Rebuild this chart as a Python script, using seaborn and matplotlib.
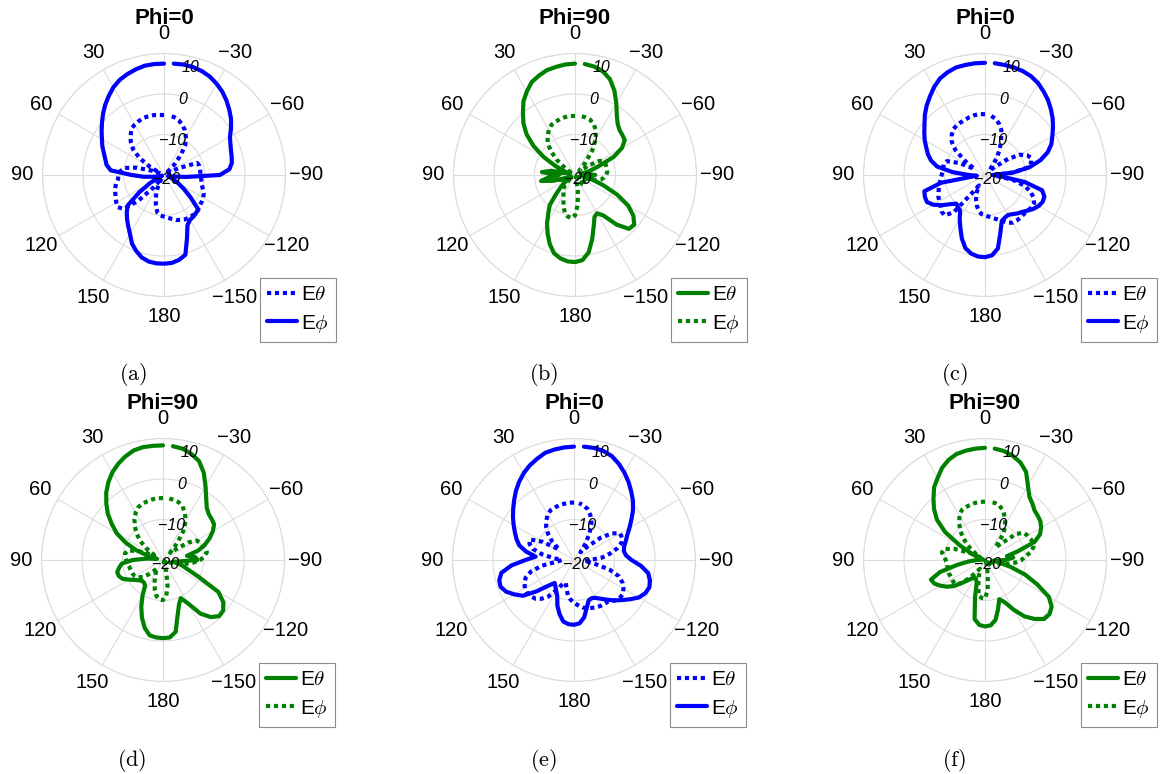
import numpy as np
import matplotlib
matplotlib.use("Agg")
import matplotlib.pyplot as plt
import seaborn as sns

# angle grid in degrees: 0..180 then -175..-5 (stored as 185..355)
theta_deg = np.arange(0, 360, 5)
tick_angles = np.arange(0, 360, 30)
tick_labels = ["0", "30", "60", "90", "120", "150", "180",
               "\u2212150", "\u2212120", "\u221290", "\u221260", "\u221230"]
r_ticks = [-20, -10, 0, 10]

# (a) Phi=0
a_etheta = [-5.2, -5.1, -5.0, -5.0, -5.0, -5.3, -5.6, -6.0, -7.2, -8.4,
            -10.0, -12.5, -16, -19, -17, -13, -10.0, -9.2, -8.8, -8.6,
            -8.0, -7.5, -7.2, -6.8, -6.4, -6.1, -7.0, -11, -16, -19,
            -17.5, -15.8, -14, -12.3, -10.6, -10.0, -9.7,
            -9.4, -9.0, -8.5, -8.2, -7.9, -7.8, -7.8, -7.6, -8.0, -8.4,
            -8.6, -8.8, -9.2, -9.8, -10.3, -10.6, -10.8, -11, -11, -11,
            -11.0, -11.3, -16, -19, -19.5, -19, -16.5, -13.5, -10.8, -9.2,
            -7.8, -6.8, -6.0, -5.5, -5.3]
a_ephi = [7.5, 7.5, 7.4, 7.0, 6.5, 5.9, 5.0, 3.8, 2.6, 1.3,
          0.0, -1.2, -2.3, -3.2, -4.2, -5.0, -5.6, -6.8, -12, -15,
          -17.5, -19, -19.5, -18.5, -16, -12.5, -8.3, -7.0, -5.8, -4.6,
          -3.2, -1.3, 0.0, 1.1, 1.7, 1.9, 1.9,
          1.8, 1.3, 0.4, -3.4, -6.3, -7.2, -7.4, -7.7, -8.1, -11.5,
          -14, -16, -17.5, -18.5, -19, -18, -14.5, -6.2, -3.8, -3.0,
          -2.7, -2.4, -1.9, -1.2, 0.2, 1.6, 2.8, 4.0, 5.1, 6.0,
          6.8, 7.3, 7.6, 7.7, 7.6]

# (b) Phi=90
b_etheta = [7.5, 7.4, 7.1, 6.8, 6.1, 5.3, 3.8, 2.2, 0.0, -2.0,
            -4.4, -7.5, -11, -14.5, -16.8, -18.5, -14, -11.8, -16, -13.5,
            -11.5, -14.5, -18.5, -19, -18.5, -17, -15.5, -13.5, -10.3, -8.5,
            -6.2, -4.0, -1.8, 0.0, 0.9, 1.4, 1.5,
            1.1, -0.6, -3.6, -6.5, -8.6, -9.1, -7.8, -4.0, -1.2, -0.9,
            -2.4, -4.8, -8.5, -12.5, -15.5, -18, -16, -15, -17, -18.5,
            -16.5, -14, -9.5, -6.6, -5.0, -4.7, -4.4, -3.6, -2.0, 0.4,
            3.0, 5.2, 6.5, 7.2, 7.5]
b_ephi = [-5.4, -5.4, -5.5, -5.7, -6.0, -6.3, -7.1, -8.2, -9.5, -11.5,
          -14, -17, -19, -19.5, -19, -18, -17, -16, -15.5, -15,
          -15, -15.5, -16.5, -17.5, -18.5, -19, -18, -16.5, -15.5, -15,
          -14.3, -13.2, -11.8, -10.3, -9.6, -9.3, -10,
          -12.5, -16, -18.5, -19.5, -19.5, -19, -18, -17, -16.5, -17,
          -18, -19, -19, -17.5, -15, -13.5, -12.8, -12.3, -12, -12,
          -12, -12, -12.2, -13, -16, -18.5, -18.5, -16, -12.5, -9.8,
          -7.8, -6.6, -5.8, -5.5, -5.4]

# (c) Phi=0
c_etheta = [-5.0, -4.9, -5.0, -5.2, -5.5, -5.7, -5.9, -6.3, -7.2, -8.4,
            -10.5, -14, -17, -13, -10, -9.5, -9.5, -9.5, -9.3, -9.0,
            -8.6, -8.2, -7.8, -7.3, -7.0, -6.6, -6.0, -5.9, -8.0, -15,
            -17, -15, -13.5, -12.2, -11, -10.3, -10,
            -9.7, -9.2, -8.7, -8.0, -7.0, -6.4, -6.3, -6.3, -6.4, -6.3,
            -6.0, -6.0, -6.8, -8.0, -10, -13, -17, -18, -13, -9.2,
            -8.2, -7.8, -8.5, -10, -13, -17, -18.5, -17.5, -15, -12.8,
            -10.6, -8.2, -6.8, -5.8, -5.2]
c_ephi = [7.7, 7.7, 7.6, 7.5, 7.0, 6.3, 5.1, 3.7, 2.4, 1.0,
          -0.5, -1.7, -2.8, -4.0, -5.0, -6.2, -8.0, -12, -16, -18,
          -9, -4.5, -4.2, -4.2, -5.3, -7.0, -8.8, -10, -9.6, -9.3,
          -7.5, -5.6, -3.3, -1.3, -0.3, 0.2, 0.3,
          -0.1, -1.6, -5.3, -7.9, -8.4, -8.6, -8.2, -7.6, -7.1, -6.3,
          -5.4, -4.7, -4.3, -4.4, -5.4, -10, -16, -18, -13, -8.8,
          -5.8, -3.5, -1.9, -0.8, 0.5, 1.8, 3.0, 4.2, 5.2, 6.2,
          6.9, 7.3, 7.5, 7.6, 7.7]

# (d) Phi=90
d_etheta = [8.3, 8.3, 8.3, 8.0, 7.2, 6.2, 5.0, 3.5, 1.8, -0.2,
            -2.2, -4.6, -6.8, -9.8, -13, -16.5, -18.5, -16, -12.5, -9.8,
            -9.0, -8.3, -8.4, -9.0, -10.3, -11.4, -12.2, -12.7, -12.7, -12.3,
            -9.9, -7.3, -4.8, -2.6, -1.1, -0.8, -0.7,
            -0.8, -2.0, -6.0, -8.4, -9.6, -7.6, -3.8, -1.6, -0.4, -0.6,
            -1.8, -4.2, -10.5, -13.8, -15.3, -17.5, -16, -11.5, -12, -14,
            -11, -9, -7.3, -5.8, -4.6, -4.3, -4.0, -3.2, -1.4, 1.0,
            3.8, 6.0, 7.1, 7.9, 8.2]
d_ephi = [-4.7, -4.7, -4.8, -5.0, -5.2, -5.6, -6.5, -7.7, -9.2, -10.8,
          -12.6, -15, -17.5, -17, -13.5, -11, -10.5, -10.6, -10.9, -11.2,
          -11.5, -11.6, -11.7, -11.8, -12, -12.5, -13.5, -15, -16.5, -17.5,
          -16.5, -15.3, -13.8, -12.3, -10.9, -10.2, -10.1,
          -11, -13.5, -17, -19, -19.5, -19.5, -19, -18.5, -18.5, -19,
          -19.5, -19.5, -19, -18, -16.5, -14.5, -12.5, -10.8, -9.8, -9.0,
          -9.1, -9.5, -9.9, -10.4, -12.5, -16, -17.5, -14.5, -11.2, -8.8,
          -7.2, -5.9, -5.2, -4.9, -4.7]

# (e) Phi=0
e_etheta = [-5.8, -5.8, -5.9, -6.0, -6.2, -6.4, -7.0, -8.1, -9.3, -11,
            -13, -15.5, -11, -8.0, -8.3, -9.5, -12, -15, -17, -16,
            -12, -9.0, -7.3, -6.5, -6.0, -5.9, -6.1, -6.5, -7.5, -9.0,
            -11.5, -13.5, -14, -12.8, -11.2, -10.2, -9.4,
            -8.8, -8.1, -7.7, -7.4, -7.1, -6.9, -6.8, -6.7, -5.8, -5.3,
            -5.3, -5.9, -6.8, -8.2, -11, -15, -17.5, -16, -13, -11,
            -9, -7.5, -6.9, -6.9, -8.5, -11.5, -15.5, -17.5, -15, -12.3,
            -9.8, -8.2, -7.0, -6.3, -5.9]
e_ephi = [8.0, 7.9, 7.7, 7.4, 6.6, 5.8, 4.8, 3.6, 2.3, 0.9,
          -0.4, -1.6, -2.8, -3.9, -4.9, -6.0, -8.0, -10.5, -8.0, -4.5,
          -1.8, -0.9, -0.7, -1.5, -3.0, -4.6, -8.0, -11, -12.6, -12,
          -11.2, -10.2, -8.0, -6.2, -4.6, -4.1, -4.0,
          -4.3, -5.6, -7.8, -9.4, -9.6, -9.2, -8.3, -7.2, -5.9, -4.6,
          -3.1, -1.5, -0.6, -0.2, -0.6, -1.4, -3.4, -5.8, -7.1, -7.5,
          -7.2, -6.4, -5.5, -4.2, -2.7, -1.0, 0.6, 2.0, 3.5, 4.9,
          6.2, 7.3, 7.9, 8.1, 8.1]

# (f) Phi=90
f_etheta = [7.7, 7.6, 7.4, 7.1, 6.3, 5.1, 3.4, 1.9, -0.2, -2.2,
            -4.5, -8, -13, -16.5, -18.5, -19.5, -19.5, -19, -18, -16,
            -13, -8.5, -5.8, -6.2, -7.3, -8.5, -10, -12, -13.5, -14.5,
            -15, -14.8, -14, -10.5, -5.2, -3.9, -3.6,
            -3.8, -5.0, -7.5, -9.7, -8.5, -5.8, -3.0, -1.0, 0.6, 0.8,
            0.1, -1.8, -5.8, -9.5, -13.5, -16.5, -18, -15, -13, -14.5,
            -11.5, -7.0, -5.0, -4.0, -3.3, -3.0, -2.7, -1.8, -0.9, 1.2,
            4.0, 5.6, 6.6, 7.3, 7.6]
f_ephi = [-5.6, -5.6, -5.7, -5.9, -6.1, -6.4, -7.4, -8.9, -10.5, -12.4,
          -14.5, -17, -18.5, -16, -12, -9.5, -9.2, -9.8, -10.3, -10.6,
          -10.6, -10.5, -10.5, -10.6, -10.6, -10.5, -10.6, -12, -14.5, -16.5,
          -17.5, -17, -15.5, -13.6, -11, -10.6, -10.5,
          -12.5, -16, -18, -19, -19.5, -19.5, -19, -18.5, -18.5, -19,
          -19.5, -19.5, -19, -18, -16.5, -14.5, -12.5, -11, -10, -8.5,
          -7.6, -7.4, -7.6, -7.9, -8.3, -10, -14, -16, -12, -10,
          -8.4, -7.0, -6.1, -5.7, -5.6]

titles = ["Phi=0", "Phi=90", "Phi=0", "Phi=90", "Phi=0", "Phi=90"]
captions = ["(a)", "(b)", "(c)", "(d)", "(e)", "(f)"]
BLUE = (0, 0, 1)
GREEN = (0, 0.5, 0)
DOTTED = (0, (1, 0.9))

# (Etheta values, style, Ephi values, style, colour) - legend order is Etheta, Ephi
panels = [
    (a_etheta, DOTTED, a_ephi, "-", BLUE),
    (b_etheta, "-", b_ephi, DOTTED, GREEN),
    (c_etheta, DOTTED, c_ephi, "-", BLUE),
    (d_etheta, "-", d_ephi, DOTTED, GREEN),
    (e_etheta, DOTTED, e_ephi, "-", BLUE),
    (f_etheta, "-", f_ephi, DOTTED, GREEN),
]

centers = [(164, 175), (575, 175), (985, 175), (163, 560), (574, 560), (985, 560)]

# where the r tick labels sit (angle in deg, radius in dB), MATLAB-like
rlabel_pos = [(-149, -18.6), (-14, -11.1), (-14, -0.7), (-14, 7.4)]

sns.set_style("white")
plt.rcParams["font.family"] = ["Liberation Sans", "DejaVu Sans"]
plt.rcParams["mathtext.fontset"] = "cm"
plt.rcParams["text.color"] = "black"
plt.rcParams["xtick.color"] = "black"
plt.rcParams["ytick.color"] = "black"

W, H = 1162, 774
R = 121.5
fig = plt.figure(figsize=(W / 100, H / 100), dpi=100)
theta = np.deg2rad(theta_deg)

for i, (eth, eth_ls, eph, eph_ls, color) in enumerate(panels):
    cx, cy = centers[i]
    ax = fig.add_axes([(cx - R) / W, (H - cy - R) / H, 2 * R / W, 2 * R / H],
                      projection="polar")
    ax.set_theta_zero_location("N")
    ax.set_theta_direction(1)

    for vals, ls in [(eth, eth_ls), (eph, eph_ls)]:
        sns.lineplot(x=theta, y=np.array(vals), ax=ax, color=color,
                     linewidth=3, linestyle=ls, sort=False, estimator=None)

    ax.set_ylim(-20, 10)
    ax.set_yticks(r_ticks)
    ax.set_yticklabels([])
    for t, (ang, rr) in zip(r_ticks, rlabel_pos):
        ax.text(np.deg2rad(ang), rr, str(t).replace("-", "\u2212"),
                ha="center", va="center", fontsize=11.5, style="italic",
                color="black")
    ax.set_thetagrids(tick_angles, labels=tick_labels)
    ax.tick_params(axis="x", labelsize=14.5, pad=4, colors="black")
    ax.grid(True, color="#dcdcdc", linewidth=0.8)
    ax.spines["polar"].set_color("#dcdcdc")
    ax.spines["polar"].set_linewidth(0.8)
    ax.set_xlabel("")
    ax.set_ylabel("")

    ax.text(0.5, 1.145, titles[i], transform=ax.transAxes, ha="center",
            va="center", fontsize=16, fontweight="bold", color="black")

    leg = ax.legend(handles=ax.lines[:2], labels=[r"E$\theta$", r"E$\phi$"],
                    loc="upper left", bbox_to_anchor=(0.895, 0.076),
                    borderaxespad=0, fontsize=15, handlelength=1.45,
                    handletextpad=0.15, borderpad=0.35, labelspacing=0.4,
                    fancybox=False, framealpha=1, edgecolor="#8c8c8c")
    leg.get_frame().set_linewidth(0.8)

    fig.text((cx - 31) / W, 1 - (cy + 200) / H, r"$\mathrm{" + captions[i] + "}$",
             ha="center", va="center", fontsize=16, color="black")

fig.savefig("out.png", dpi=100)
